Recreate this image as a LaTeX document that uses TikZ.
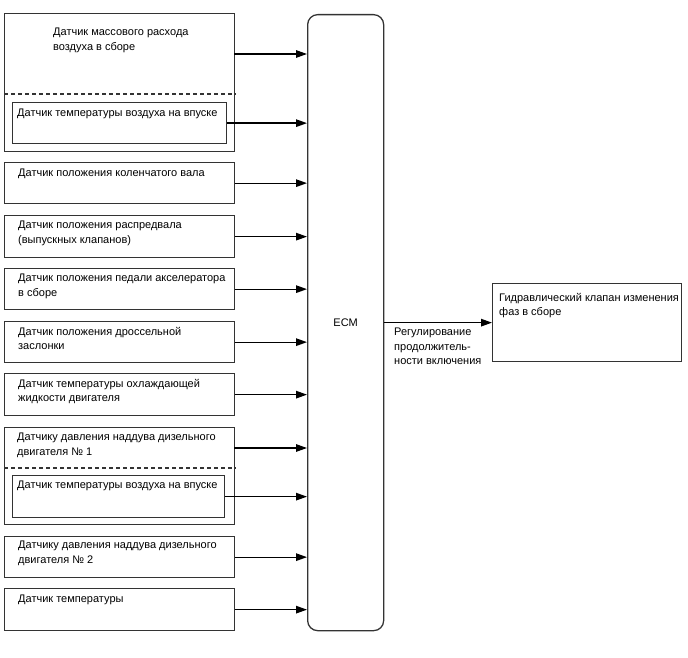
\documentclass[tikz,border=0pt]{standalone}
\usepackage{fontspec}
\setmainfont{Liberation Sans}
\usetikzlibrary{arrows.meta,positioning}

\begin{document}
\begin{tikzpicture}[x=1pt,y=-1pt,
box/.style={draw=black!80,line width=1.3pt,rectangle,inner sep=0pt,anchor=north west,
  font=\fontsize{11}{14.5}\selectfont},
lbl/.style={inner sep=0pt,anchor=north west,align=left,font=\fontsize{11}{14.5}\selectfont},
sig/.style={-{Triangle[length=11pt,width=7.5pt]},line width=1.3pt},
sep/.style={line width=1.3pt,draw=black!80,dash pattern=on 4pt off 3pt}]
\useasboundingbox (0,0) rectangle (688,658);

% control unit
\node[box,rounded corners=10pt,minimum width=76,minimum height=616] (ECM) at (307,14) {ECM};

% mass air flow group
\node[box,minimum width=230,minimum height=138] (G1) at (4,13) {};
\coordinate (G1d) at (4,94);
\draw[sep] (G1d) -- (G1d -| G1.east);
\node[lbl] (G1t) at ([shift={(49,15)}]G1.north west) {Датчик массового расхода\\воздуха в сборе};
\node[box,minimum width=214,minimum height=41] (G1i) at (12,102) {};
\node[lbl] (G1it) at ([shift={(5,7)}]G1i.north west) {Датчик температуры воздуха на впуске};
\coordinate (G1a) at (234,54);

% single sensors
\node[box,minimum width=230,minimum height=41] (S2) at (4,162) {};
\node[lbl] (S2t) at ([shift={(14,7)}]S2.north west) {Датчик положения коленчатого вала};
\node[box,minimum width=230,minimum height=42] (S3) at (4,215) {};
\node[lbl] (S3t) at ([shift={(14,6)}]S3.north west) {Датчик положения распредвала\\(выпускных клапанов)};
\node[box,minimum width=230,minimum height=41] (S4) at (4,268) {};
\node[lbl] (S4t) at ([shift={(14,6)}]S4.north west) {Датчик положения педали акселератора\\в сборе};
\node[box,minimum width=230,minimum height=41] (S5) at (4,321) {};
\node[lbl] (S5t) at ([shift={(14,6)}]S5.north west) {Датчик положения дроссельной\\заслонки};
\node[box,minimum width=230,minimum height=42] (S6) at (4,373) {};
\node[lbl] (S6t) at ([shift={(14,6)}]S6.north west) {Датчик температуры охлаждающей\\жидкости двигателя};

% boost pressure group
\node[box,minimum width=230,minimum height=97] (G2) at (4,427) {};
\coordinate (G2d) at (4,468);
\draw[sep] (G2d) -- (G2d -| G2.east);
\node[lbl] (G2t) at ([shift={(13,6)}]G2.north west) {Датчику давления наддува дизельного\\двигателя №~1};
\node[box,minimum width=212,minimum height=42] (G2i) at (12,475) {};
\node[lbl] (G2it) at ([shift={(5,6)}]G2i.north west) {Датчик температуры воздуха на впуске};
\coordinate (G2a) at (234,448);

\node[box,minimum width=230,minimum height=41] (S8) at (4,536) {};
\node[lbl] (S8t) at ([shift={(14,5)}]S8.north west) {Датчику давления наддува дизельного\\двигателя №~2};
\node[box,minimum width=230,minimum height=42] (S9) at (4,588) {};
\node[lbl] (S9t) at ([shift={(14,7)}]S9.north west) {Датчик температуры};

% actuator
\node[box,minimum width=189,minimum height=78] (VVT) at (492,283) {};
\node[lbl] (VVTt) at ([shift={(7,10)}]VVT.north west) {Гидравлический клапан изменения\\фаз в сборе};
\node[lbl] (Reg) at (394,328) {Регулирование\\продолжитель-\\ности включения};

% signals
\draw[sig] (G1a) -- (G1a -| ECM.west);
\draw[sig] (G1i.east) -- (G1i.east -| ECM.west);
\draw[sig] (S2.east) -- (S2.east -| ECM.west);
\draw[sig] (S3.east) -- (S3.east -| ECM.west);
\draw[sig] (S4.east) -- (S4.east -| ECM.west);
\draw[sig] (S5.east) -- (S5.east -| ECM.west);
\draw[sig] (S6.east) -- (S6.east -| ECM.west);
\draw[sig] (G2a) -- (G2a -| ECM.west);
\draw[sig] (G2i.east) -- (G2i.east -| ECM.west);
\draw[sig] (S8.east) -- (S8.east -| ECM.west);
\draw[sig] (S9.east) -- (S9.east -| ECM.west);
\draw[sig] (ECM.east) -- (VVT.west);
\end{tikzpicture}
\end{document}
